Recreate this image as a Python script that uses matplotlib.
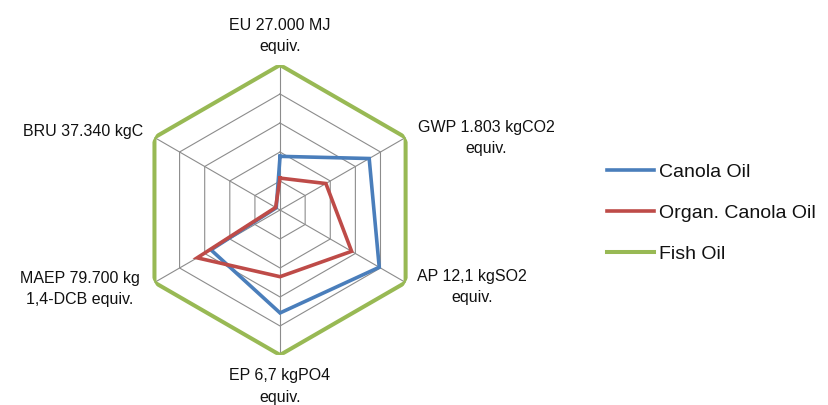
import numpy as np
import matplotlib
matplotlib.use("Agg")
import matplotlib.pyplot as plt

categories = ["EU 27.000 MJ\nequiv.", "GWP 1.803 kgCO2\nequiv.", "AP 12,1 kgSO2\nequiv.",
              "EP 6,7 kgPO4\nequiv.", "MAEP 79.700 kg\n1,4-DCB equiv.", "BRU 37.340 kgC"]
canola = [0.37, 0.71, 0.79, 0.71, 0.55, 0.03]
organ_canola = [0.22, 0.365, 0.57, 0.46, 0.66, 0.035]
fish = [1.0, 1.0, 1.0, 1.0, 1.0, 1.0]
series_names = ["Canola Oil", "Organ. Canola Oil", "Fish Oil"]
grid_levels = [0.2, 0.4, 0.6, 0.8, 1.0]

plt.rcParams['font.family'] = ['Liberation Sans', 'DejaVu Sans']

fig = plt.figure(figsize=(8.29, 4.05), dpi=100)
ax = fig.add_axes([0.1629, 0.1235, 0.3498, 0.716], projection='polar')
ax.set_theta_offset(np.pi / 2)
ax.set_theta_direction(-1)
ax.set_ylim(0, 1)
ax.grid(False)
ax.spines['polar'].set_visible(False)
ax.set_xticks([])
ax.set_yticks([])
ax.patch.set_alpha(0)

n = len(categories)
theta = np.arange(n) * 2 * np.pi / n
theta_c = np.append(theta, theta[0])

grid_col = "#8c8c8c"
for lv in grid_levels[:-1]:
    ax.plot(theta_c, [lv] * (n + 1), color=grid_col, lw=0.8, zorder=1)
for t in theta:
    ax.plot([t, t], [0, 1], color=grid_col, lw=0.8, zorder=1)

colors = ["#4a7ebb", "#be4b48", "#98b954"]
lws = [2.6, 2.6, 2.9]
for vals, c, lw, nm in zip([canola, organ_canola, fish], colors, lws, series_names):
    v = np.append(vals, vals[0])
    ax.plot(theta_c, v, color=c, lw=lw, label=nm, zorder=3, solid_joinstyle='miter')

# label positions (angle deg clockwise from top, radius, ha, va)
lab_pos = [(0, 1.075, 'center', 'bottom'),
           (62.4, 1.074, 'left', 'center'),
           (119.3, 1.084, 'left', 'center'),
           (180, 1.09, 'center', 'top'),
           (240.6, 1.108, 'right', 'center'),
           (299.7, 1.087, 'right', 'center')]
for lab, (a, r, ha, va) in zip(categories, lab_pos):
    ax.text(np.deg2rad(a), r, lab, ha=ha, va=va, multialignment='center',
            fontsize=11.5, linespacing=1.55, color="#111111", clip_on=False)

leg = fig.legend(loc='center left', bbox_to_anchor=(0.732, 0.474), frameon=False,
                 fontsize=14, handlelength=2.45, handletextpad=0.25, labelspacing=1.2,
                 borderpad=0, borderaxespad=0)
for t in leg.get_texts():
    t.set_color("#111111")

fig.savefig("out.png", dpi=100)
